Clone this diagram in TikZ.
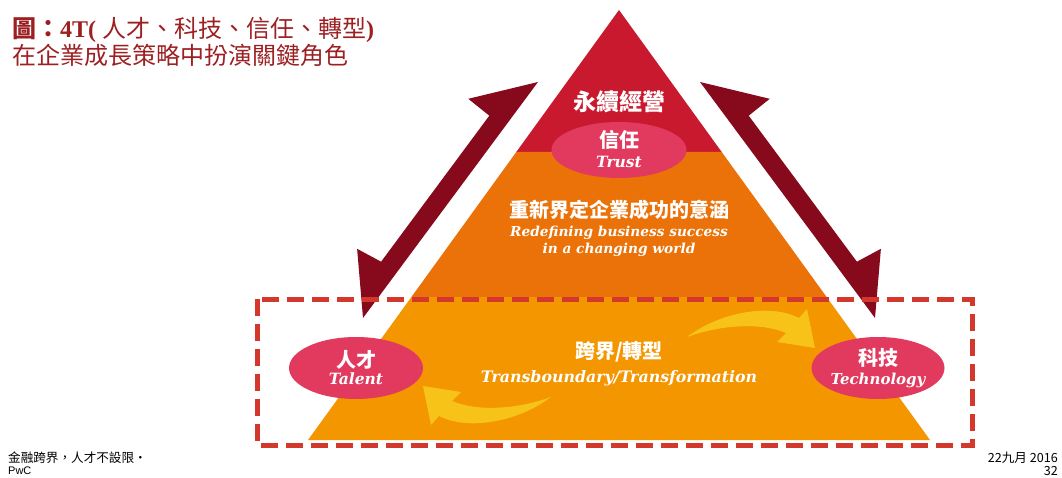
\documentclass[tikz,border=0pt]{standalone}
\usepackage{fontspec}
\setmainfont{Liberation Serif}
\newfontfamily\cjk{Noto Sans CJK TC}
\newfontfamily\engb{DejaVu Serif}
\newfontfamily\footsans{Liberation Sans}
\usetikzlibrary{shapes.geometric}
\definecolor{topred}{HTML}{C8192F}
\definecolor{midorg}{HTML}{EA7208}
\definecolor{botorg}{HTML}{F39600}
\definecolor{ellpink}{HTML}{E13A5E}
\definecolor{arrred}{HTML}{860A1C}
\definecolor{dashred}{HTML}{D4372B}
\definecolor{swoosh}{HTML}{F8C318}
\definecolor{titlered}{HTML}{9C1F22}
\tikzset{
  oval/.style={ellipse, fill=ellpink, inner sep=0pt},
  zh/.style={text=white, inner sep=0pt, font=\cjk\bfseries\fontsize{#1}{#1}\selectfont},
  en/.style={text=white, inner sep=0pt, font=\engb\bfseries\itshape\fontsize{#1}{#1}\selectfont},
  bigarrow/.style={fill=arrred},
  swooshfill/.style={fill=swoosh},
  foot/.style={inner sep=0pt, text=black}
}
\begin{document}
\begin{tikzpicture}[x=1pt,y=-1pt]
\useasboundingbox (0,0) rectangle (1062,478);
% pyramid layers
\fill[topred] (619,10) -- (516.3,152) -- (721.7,152) -- cycle;
\fill[midorg] (516.3,152) -- (411.4,297) -- (826.6,297) -- (721.7,152) -- cycle;
\fill[botorg] (411.4,297) -- (308,440) -- (930,440) -- (826.6,297) -- cycle;
% swoosh arrows
\fill[swooshfill] (687,337) .. controls (720,312) and (770,303) .. (799,318) -- (807,309) -- (815,348) -- (777,342) -- (786,333) .. controls (760,322) and (720,325) .. (687,337) -- cycle;
\fill[swooshfill, rotate around={180:(619,367)}] (687,337) .. controls (720,312) and (770,303) .. (799,318) -- (807,309) -- (815,348) -- (777,342) -- (786,333) .. controls (760,322) and (720,325) .. (687,337) -- cycle;
% ellipses
\node[oval, minimum width=135pt, minimum height=56pt] (trust) at (619,150) {};
\node[oval, minimum width=134pt, minimum height=62pt] (talent) at (356,368) {};
\node[oval, minimum width=133pt, minimum height=62pt] (tech) at (878,368) {};
% texts
\node[zh=23] (yx) at (619,102) {永續經營};
\node[zh=20] (xr) at (619,140) {信任};
\node[en=15.5] (xre) at (619,162) {Trust};
\node[zh=20] (cy) at (619,210) {重新界定企業成功的意涵};
\node[en=13.7] (cye1) at (619,233) {Redefining business success};
\node[en=13.7] (cye2) at (619,250) {in a changing world};
\node[zh=20] (kj) at (619,352) {跨界/轉型};
\node[en=15.8] (kje) at (619,378) {Transboundary/Transformation};
\node[zh=20] (rc) at (356,360) {人才};
\node[en=15.5] (rce) at (356,379) {Talent};
\node[zh=20] (kt) at (878,358) {科技};
\node[en=15] (kte) at (878,380) {Technology};
% big double arrows
\fill[bigarrow] (538,82) -- (468.3,98.8) -- (489.3,115.7) -- (381.1,261.7) -- (357.1,248.8) -- (363,318) -- cycle;
\fill[bigarrow] (700,82) -- (769.7,98.8) -- (748.7,115.7) -- (856.9,261.7) -- (880.9,248.8) -- (875,318) -- cycle;
% dashed frame
\draw[dashred, line width=5pt, dash pattern=on 17pt off 8pt] (257,299) rectangle (972,445);
% title
\node[anchor=west, inner sep=0pt, text=titlered, font=\fontsize{24}{24}\selectfont] (t1) at (12,30)
  {{\cjk\bfseries 圖：}{\bfseries 4T(}\hspace{6pt}{\cjk 人才、科技、信任、轉型}{\bfseries )}};
\node[anchor=west, inner sep=0pt, text=titlered, font=\cjk\fontsize{24}{24}\selectfont] (t2) at (12,55)
  {在企業成長策略中扮演關鍵角色};
% footer
\node[foot, anchor=west, font=\cjk\fontsize{12.6}{12.6}\selectfont] (f1) at (8,458) {金融跨界，人才不設限•};
\node[foot, anchor=west, font=\footsans\fontsize{11}{11}\selectfont] (f2) at (8,471) {PwC};
\node[foot, anchor=east, font=\cjk\fontsize{12.6}{12.6}\selectfont] (f3) at (1058,458) {22九月 2016};
\node[foot, anchor=east, font=\cjk\fontsize{12.6}{12.6}\selectfont] (f4) at (1058,471) {32};
\end{tikzpicture}
\end{document}
